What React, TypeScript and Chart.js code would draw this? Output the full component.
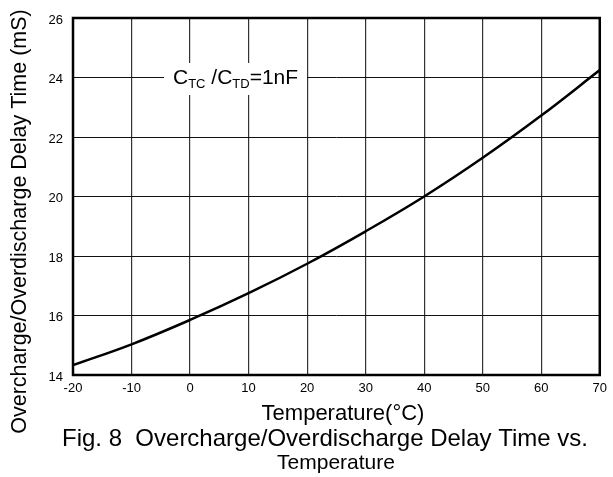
import React, { useEffect, useRef } from "react";
import { Chart, registerables } from "chart.js";

Chart.register(...registerables);

const temperatures = [-20, -10, 0, 10, 20, 30, 40, 50, 60, 70];
const delayTimes = [14.33, 15.03, 15.85, 16.75, 17.74, 18.83, 20.0, 21.3, 22.72, 24.25];
const xTicks = { min: -20, max: 70, step: 10 };
const yTicks = { min: 14, max: 26, step: 2 };
const yTitle = "Overcharge/Overdischarge Delay Time (mS)";
const xTitle = "Temperature(\u00B0C)";
const captionLine1 = "Fig. 8  Overcharge/Overdischarge Delay Time vs.";
const captionLine2 = "Temperature";
const FONT = '"Liberation Sans", Arial, sans-serif';

const textPlugin = {
  id: "texts",
  afterDatasetsDraw(chart: any) {
    const ctx = chart.ctx as CanvasRenderingContext2D;
    const area = chart.chartArea;
    ctx.save();
    // frame
    ctx.strokeStyle = "#000";
    ctx.lineWidth = 2.5;
    ctx.strokeRect(area.left, area.top, area.right - area.left, area.bottom - area.top);

    // annotation box
    ctx.fillStyle = "#fff";
    ctx.fillRect(164, 63, 143, 32);
    ctx.fillStyle = "#000";
    ctx.textBaseline = "alphabetic";
    ctx.textAlign = "left";
    let x = 173;
    const big = `21px ${FONT}`;
    const small = `13px ${FONT}`;
    const parts: [string, string, number][] = [
      ["C", big, 84],
      ["TC", small, 88],
      [" /C", big, 84],
      ["TD", small, 88],
      ["=1nF", big, 84],
    ];
    for (const [t, f, by] of parts) {
      ctx.font = f;
      ctx.fillText(t, x, by);
      x += ctx.measureText(t).width;
    }

    // y title
    ctx.font = `21.5px ${FONT}`;
    ctx.save();
    ctx.translate(26, 221.5);
    ctx.rotate(-Math.PI / 2);
    ctx.textAlign = "center";
    ctx.fillText(yTitle, 0, 0);
    ctx.restore();

    // x title
    ctx.font = `22px ${FONT}`;
    ctx.textAlign = "center";
    ctx.fillText(xTitle, 343, 420);
    // caption
    ctx.font = `24px ${FONT}`;
    ctx.textAlign = "left";
    ctx.fillText(captionLine1, 62, 446);
    ctx.font = `21px ${FONT}`;
    ctx.textAlign = "center";
    ctx.fillText(captionLine2, 336, 469);
    ctx.restore();
  },
};

export default function App() {
  const ref = useRef<HTMLCanvasElement | null>(null);
  useEffect(() => {
    if (!ref.current) return;
    const chart = new Chart(ref.current, {
      type: "line",
      data: {
        datasets: [
          {
            data: temperatures.map((t, i) => ({ x: t, y: delayTimes[i] })),
            borderColor: "#000",
            borderWidth: 2.5,
            pointRadius: 0,
            tension: 0.4,
            fill: false,
          },
        ],
      },
      options: {
        responsive: false,
        animation: false,
        devicePixelRatio: 1,
        layout: { padding: { left: 0, top: 18, right: 9, bottom: 0 } },
        plugins: { legend: { display: false }, tooltip: { enabled: false }, title: { display: false } },
        scales: {
          x: {
            type: "linear",
            min: xTicks.min,
            max: xTicks.max,
            afterFit: (s: any) => {
              s.height = 102;
            },
            ticks: {
              stepSize: xTicks.step,
              color: "#000",
              padding: 6,
              maxRotation: 0,
              font: { family: FONT, size: 13 },
            },
            grid: { color: "#333", lineWidth: 1.2, drawTicks: false },
            border: { display: false },
          },
          y: {
            type: "linear",
            min: yTicks.min,
            max: yTicks.max,
            afterFit: (s: any) => {
              s.width = 73;
            },
            ticks: {
              stepSize: yTicks.step,
              color: "#000",
              padding: 10,
              labelOffset: 2,
              font: { family: FONT, size: 13 },
            },
            grid: { color: "#111", lineWidth: 1, drawTicks: false },
            border: { display: false },
          },
        },
      },
      plugins: [textPlugin],
    } as any);
    return () => chart.destroy();
  }, []);
  return (
    <div style={{ position: "absolute", left: 0, top: 0, width: 613, height: 477, background: "#fff" }}>
      <canvas ref={ref} width={613} height={477} style={{ display: "block" }} />
    </div>
  );
}
